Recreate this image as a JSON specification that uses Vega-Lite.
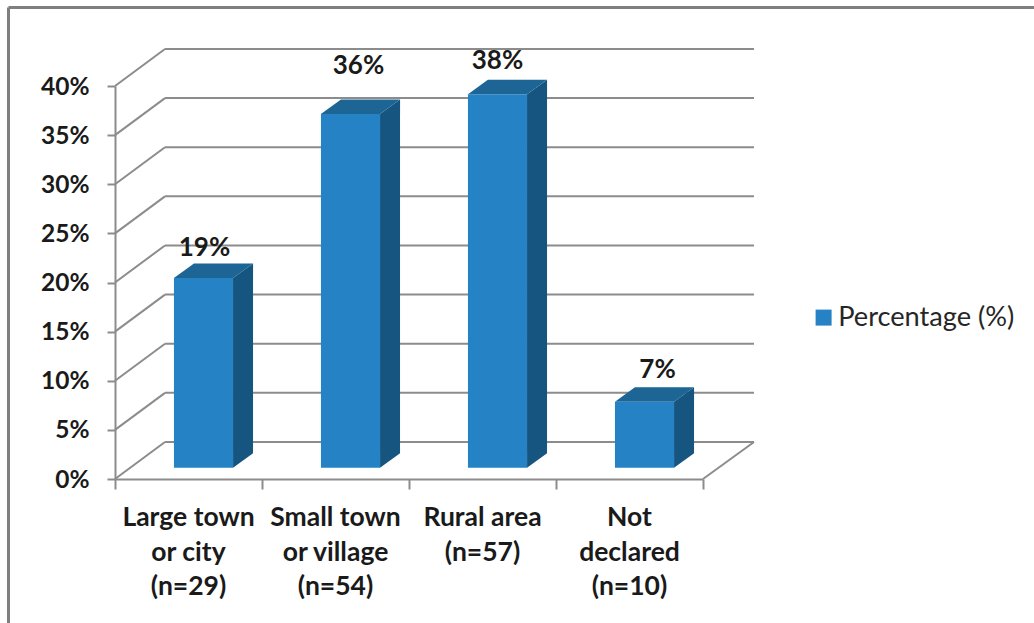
{
"$schema":"https://vega.github.io/schema/vega-lite/v6.json",
"width":588,"height":393,
"autosize":{"type":"none"},
"padding":{"left":115,"top":86,"right":331,"bottom":144},
"background":"white",
"config":{"view":{"stroke":null},"font":"Lato"},
"datasets":{
"bars":[
{"i":0,"label":"Large town|or city|(n=29)","share":0.193},
{"i":1,"label":"Small town|or village|(n=54)","share":0.36},
{"i":2,"label":"Rural area|(n=57)","share":0.38},
{"i":3,"label":"Not|declared|(n=10)","share":0.067}],
"grid":[{"t":0},{"t":0.05},{"t":0.1},{"t":0.15},{"t":0.2},{"t":0.25},{"t":0.3},{"t":0.35},{"t":0.4}]
},
"layer":[
{"data":{"name":"grid"},
 "mark":{"type":"rule","color":"#8c8c8c","strokeWidth":2},
 "transform":[{"calculate":"datum.t+0.0377","as":"t2"}],
 "encoding":{
  "x":{"datum":0,"type":"quantitative","scale":{"domain":[0,4],"nice":false,"zero":false},
    "axis":{"values":[0,1,2,3,4],"labels":false,"title":null,"tickSize":10,"tickWidth":2,"tickColor":"#8c8c8c","domainColor":"#8c8c8c","domainWidth":2,"grid":false}},
  "x2":{"datum":0.34},
  "y":{"field":"t","type":"quantitative","scale":{"domain":[0,0.4],"nice":false},
    "axis":{"values":[0,0.05,0.1,0.15,0.2,0.25,0.3,0.35,0.4],"format":".0%","title":null,"grid":false,"tickSize":8,"tickWidth":2,"tickColor":"#8c8c8c","domainColor":"#8c8c8c","domainWidth":2,"labelFont":"Lato","labelFontWeight":"bold","labelFontSize":24.5,"labelColor":"#1a1a1a","labelPadding":18,"labelOffset":1}},
  "y2":{"field":"t2"}}},
{"data":{"name":"grid"},
 "mark":{"type":"rule","color":"#8c8c8c","strokeWidth":2},
 "transform":[{"calculate":"datum.t+0.0377","as":"t2"}],
 "encoding":{
  "x":{"datum":0.34,"type":"quantitative"},
  "x2":{"datum":4.347},
  "y":{"field":"t2","type":"quantitative"}}},
{"data":{"values":[{"a":0}]},
 "mark":{"type":"rule","color":"#8c8c8c","strokeWidth":2},
 "encoding":{
  "x":{"datum":4,"type":"quantitative"},"x2":{"datum":4.347},
  "y":{"datum":0,"type":"quantitative"},"y2":{"datum":0.0377}}},
{"data":{"values":[{"a":0}]},
 "mark":{"type":"rule","color":"#7f7f7f","strokeWidth":3},
 "encoding":{
  "x":{"datum":-0.7245,"type":"quantitative"},
  "y":{"datum":0.48,"type":"quantitative"},"y2":{"datum":-0.15}}},
{"data":{"values":[{"a":0}]},
 "mark":{"type":"rule","color":"#7f7f7f","strokeWidth":3},
 "encoding":{
  "x":{"datum":-0.7245,"type":"quantitative"},"x2":{"datum":6.26},
  "y":{"datum":0.48,"type":"quantitative"}}},
{"data":{"name":"bars"},
 "mark":{"type":"area","color":"#15557f"},
 "transform":[{"calculate":"[0,1]","as":"t"},{"flatten":["t"]},
  {"calculate":"datum.i+0.803+datum.t*0.136","as":"px"},
  {"calculate":"0.0115+datum.t*0.0148","as":"base"},
  {"calculate":"datum.base+datum.share","as":"top"}],
 "encoding":{
  "x":{"field":"px","type":"quantitative"},
  "y":{"field":"top","type":"quantitative"},
  "y2":{"field":"base"},
  "detail":{"field":"i"}}},
{"data":{"name":"bars"},
 "mark":{"type":"area","color":"#1c6594","orient":"horizontal"},
 "transform":[{"calculate":"[0,1]","as":"t"},{"flatten":["t"]},
  {"calculate":"datum.i+0.401+datum.t*0.136","as":"pl"},
  {"calculate":"datum.i+0.803+datum.t*0.136","as":"pr"},
  {"calculate":"0.0115+datum.t*0.0148+datum.share","as":"top"}],
 "encoding":{
  "y":{"field":"top","type":"quantitative"},
  "x":{"field":"pl","type":"quantitative"},
  "x2":{"field":"pr"},
  "detail":{"field":"i"}}},
{"data":{"name":"bars"},
 "mark":{"type":"rect"},
 "transform":[
  {"calculate":"datum.i+0.401","as":"pl"},
  {"calculate":"datum.i+0.803","as":"pr"},
  {"calculate":"0.0115+datum.share","as":"top"},
  {"calculate":"0.0115","as":"base"}],
 "encoding":{
  "x":{"field":"pl","type":"quantitative"},"x2":{"field":"pr"},
  "y":{"field":"top","type":"quantitative"},"y2":{"field":"base"},
  "color":{"datum":"Percentage (%)","scale":{"domain":["Percentage (%)"],"range":["#2582c4"]},
   "legend":{"title":null,"orient":"none","legendX":695,"legendY":218,"symbolType":"square","symbolSize":256,"symbolStrokeWidth":0,"labelFont":"Lato","labelFontSize":27.2,"labelColor":"#262626","labelOffset":1,"labelLimit":400}}}},
{"data":{"name":"bars"},
 "mark":{"type":"text","font":"Lato","fontWeight":"bold","fontSize":26.5,"color":"#1a1a1a","align":"center","baseline":"alphabetic","lineBreak":"|","lineHeight":34.5,"yOffset":47},
 "transform":[{"calculate":"datum.i+0.5","as":"c"}],
 "encoding":{
  "x":{"field":"c","type":"quantitative"},
  "y":{"datum":0,"type":"quantitative"},
  "text":{"field":"label"}}},
{"data":{"name":"bars"},
 "mark":{"type":"text","font":"Lato","fontWeight":"bold","fontSize":26,"color":"#1a1a1a","align":"center","baseline":"middle","yOffset":-30,"xOffset":1},
 "transform":[{"filter":"datum.i==0"},{"calculate":"datum.i+0.602","as":"c"},{"calculate":"0.0115+datum.share","as":"top"}],
 "encoding":{"x":{"field":"c","type":"quantitative"},"y":{"field":"top","type":"quantitative"},"text":{"field":"share","format":".0%"}}},
{"data":{"name":"bars"},
 "mark":{"type":"text","font":"Lato","fontWeight":"bold","fontSize":26,"color":"#1a1a1a","align":"center","baseline":"middle","yOffset":-48,"xOffset":8},
 "transform":[{"filter":"datum.i==1"},{"calculate":"datum.i+0.602","as":"c"},{"calculate":"0.0115+datum.share","as":"top"}],
 "encoding":{"x":{"field":"c","type":"quantitative"},"y":{"field":"top","type":"quantitative"},"text":{"field":"share","format":".0%"}}},
{"data":{"name":"bars"},
 "mark":{"type":"text","font":"Lato","fontWeight":"bold","fontSize":26,"color":"#1a1a1a","align":"center","baseline":"middle","yOffset":-33,"xOffset":0},
 "transform":[{"filter":"datum.i==2"},{"calculate":"datum.i+0.602","as":"c"},{"calculate":"0.0115+datum.share","as":"top"}],
 "encoding":{"x":{"field":"c","type":"quantitative"},"y":{"field":"top","type":"quantitative"},"text":{"field":"share","format":".0%"}}},
{"data":{"name":"bars"},
 "mark":{"type":"text","font":"Lato","fontWeight":"bold","fontSize":26,"color":"#1a1a1a","align":"center","baseline":"middle","yOffset":-32,"xOffset":13},
 "transform":[{"filter":"datum.i==3"},{"calculate":"datum.i+0.602","as":"c"},{"calculate":"0.0115+datum.share","as":"top"}],
 "encoding":{"x":{"field":"c","type":"quantitative"},"y":{"field":"top","type":"quantitative"},"text":{"field":"share","format":".0%"}}}
]
}
